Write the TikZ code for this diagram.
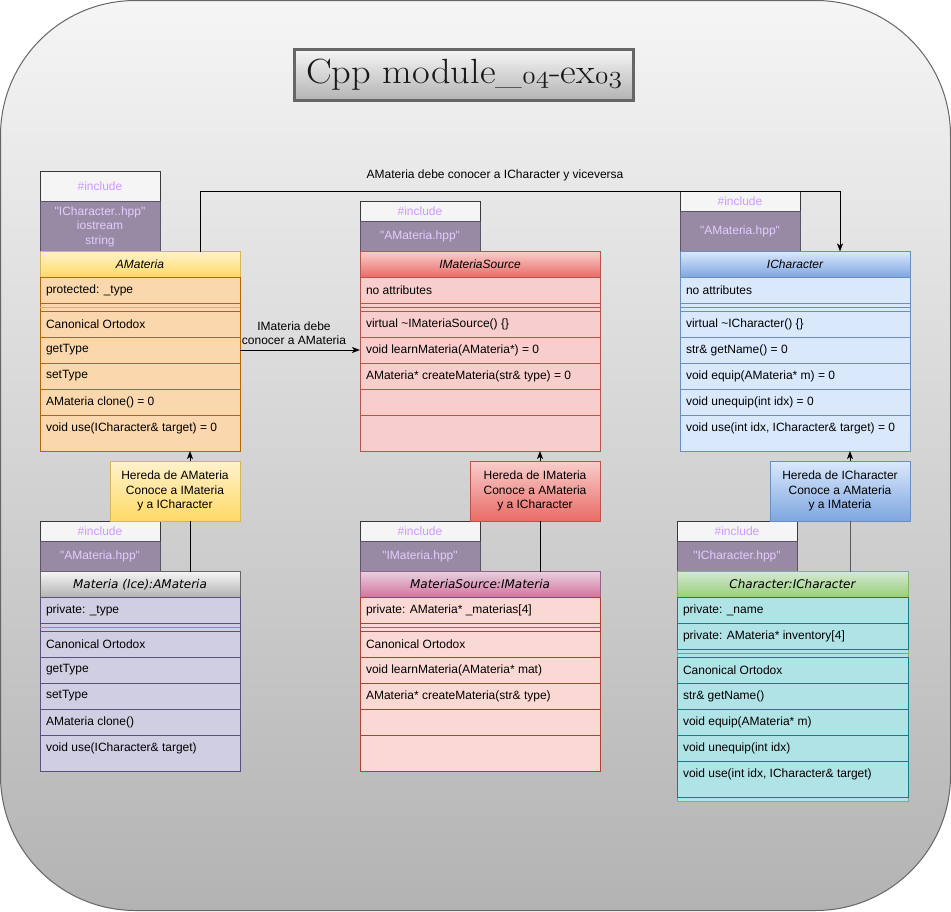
\documentclass[tikz,border=0pt]{standalone}
\usepackage{fontspec}
\newfontfamily\hv{Liberation Sans}
\newfontfamily\dv{DejaVu Sans}
\usetikzlibrary{arrows.meta}
\definecolor{bgTop}{HTML}{F5F5F5}
\definecolor{bgBot}{HTML}{B3B3B3}
\definecolor{bgLine}{HTML}{666666}
\definecolor{incF}{HTML}{F5F5F5}
\definecolor{incB}{HTML}{36393D}
\definecolor{incT}{HTML}{CC99FF}
\definecolor{purF}{HTML}{988AA4}
\definecolor{purB}{HTML}{5C5466}
\definecolor{purT}{HTML}{E5CCFF}
% AMateria
\definecolor{amF}{HTML}{FAD7AC}\definecolor{amB}{HTML}{B46504}
\definecolor{amH1}{HTML}{FFF2CC}\definecolor{amH2}{HTML}{FFD966}\definecolor{amHB}{HTML}{D6B656}
% IMateriaSource
\definecolor{imF}{HTML}{F8CECC}\definecolor{imB}{HTML}{B85450}
\definecolor{imH1}{HTML}{F8CECC}\definecolor{imH2}{HTML}{EA6B66}
% ICharacter
\definecolor{icF}{HTML}{DAE8FC}\definecolor{icB}{HTML}{6C8EBF}
\definecolor{icH1}{HTML}{DAE8FC}\definecolor{icH2}{HTML}{7EA6E0}
% Materia Ice
\definecolor{miF}{HTML}{D0CEE2}\definecolor{miB}{HTML}{56517E}
\definecolor{miH1}{HTML}{F5F5F5}\definecolor{miH2}{HTML}{B3B3B3}\definecolor{miHB}{HTML}{666666}
\definecolor{miS}{HTML}{B5922E}
% MateriaSource
\definecolor{msF}{HTML}{FAD9D5}\definecolor{msB}{HTML}{AE4132}
\definecolor{msH1}{HTML}{E6D0DE}\definecolor{msH2}{HTML}{D5739D}\definecolor{msHB}{HTML}{996185}
% Character
\definecolor{chF}{HTML}{B0E3E6}\definecolor{chB}{HTML}{0E8088}
\definecolor{chH1}{HTML}{D5E8D4}\definecolor{chH2}{HTML}{97D077}\definecolor{chHB}{HTML}{82B366}
\definecolor{chS}{HTML}{7A9E9E}

\tikzset{
  every node/.style={font=\hv\fontsize{12}{14.4}\selectfont, inner sep=0pt, outer sep=0pt},
  box/.style={anchor=north west, line width=1pt},
  txt/.style={anchor=west, text=black},
  incl/.style={box, draw=incB, fill=incF, text=incT, minimum width=120pt},
  purp/.style={box, draw=purB, fill=purF, text=purT, minimum width=120pt, align=center},
  arr/.style={-{Stealth[length=8pt,width=6pt,inset=2pt]}, line width=1pt, draw=black},
  plain/.style={line width=1pt, draw=black},
  amrow/.style={box, draw=amB, fill=amF},
  imrow/.style={box, draw=imB, fill=imF},
  icrow/.style={box, draw=icB, fill=icF},
  mirow/.style={box, draw=miB, fill=miF},
  msrow/.style={box, draw=msB, fill=msF},
  chrow/.style={box, draw=chB, fill=chF},
}
% #1 style, #2 name, #3 x, #4 y, #5 width, #6 height, #7 text
\newcommand\crow[7]{%
  \node[#1, minimum width=#5pt, minimum height=#6pt] (#2) at (#3,#4) {};
  \node[txt] (#2t) at ([xshift=6pt,yshift=-13pt]#2.north west) {#7};}
\newcommand\osnum[1]{{\usefont{OML}{cmm}{m}{it}#1}}

\begin{document}
\begin{tikzpicture}[x=1pt,y=-1pt]
\useasboundingbox (0,0) rectangle (951,911);
% background
\path[draw=bgLine, line width=1pt, top color=bgTop, bottom color=bgBot, rounded corners=135pt]
  (0.5,0.5) rectangle (950.5,910.5);

% title
\node[box, draw=bgLine, line width=3pt, top color=bgTop, bottom color=bgBot,
      minimum width=339pt, minimum height=51pt,
      font=\fontsize{35}{40}\selectfont, text=black!90] (title) at (294.5,49.5)
  {\scalebox{1.1}[1]{Cpp module\_\osnum{04}-ex\osnum{03}}};

% ================= AMateria =================
\node[incl, minimum height=30pt] (AMinc) at (40,171.3) {\#include};
\node[purp, minimum height=50.2pt] (AMpur) at (40,201.5)
  {\textquotedbl ICharacter..hpp\textquotedbl\\iostream\\string};
\node[box, draw=amB, fill=amF, minimum width=200pt, minimum height=199.5pt] (AM) at (40,251.5) {};
\node[box, draw=amHB, top color=amH1, bottom color=amH2, minimum width=200pt, minimum height=25.5pt] (AMh) at (40,251.5) {\itshape AMateria};
\crow{amrow}{AMa1}{40}{277}{200}{26}{protected: \_type}
\draw[line width=1pt, draw=amHB] (AMa1.south west) ++(0,4) coordinate (AMs1) -- ++(200,0) coordinate (AMs2);
\crow{amrow}{AMm1}{40}{311}{200}{26}{Canonical Ortodox}
\crow{amrow}{AMm2}{40}{337}{200}{26}{getType}
\crow{amrow}{AMm3}{40}{363}{200}{26}{setType}
\crow{amrow}{AMm4}{40}{389}{200}{26}{AMateria clone() = 0}
\crow{amrow}{AMm5}{40}{415}{200}{36}{void use(ICharacter\& target) = 0}

% ================= IMateriaSource =================
\node[incl, minimum height=20pt] (IMinc) at (360,201.3) {\#include};
\node[purp, minimum height=30.2pt] (IMpur) at (360,221.3) {\textquotedbl AMateria.hpp\textquotedbl};
\node[box, draw=imB, fill=imF, minimum width=240pt, minimum height=199.5pt] (IM) at (360,251.5) {};
\node[box, draw=imB, top color=imH1, bottom color=imH2, minimum width=240pt, minimum height=25.5pt] (IMh) at (360,251.5) {\itshape IMateriaSource};
\crow{imrow}{IMa1}{360}{277}{240}{26}{no attributes}
\draw[line width=1pt, draw=imB] (IMa1.south west) ++(0,4) coordinate (IMs1) -- ++(240,0) coordinate (IMs2);
\crow{imrow}{IMm1}{360}{311}{240}{26}{virtual \textasciitilde IMateriaSource() \{\}}
\crow{imrow}{IMm2}{360}{337}{240}{26}{void learnMateria(AMateria*) = 0}
\crow{imrow}{IMm3}{360}{363}{240}{26}{AMateria* createMateria(str\& type) = 0}
\crow{imrow}{IMm4}{360}{389}{240}{26}{}
\crow{imrow}{IMm5}{360}{415}{240}{36}{}

% ================= ICharacter =================
\node[incl, minimum height=20pt] (ICinc) at (680,191.3) {\#include};
\node[purp, minimum height=40.2pt] (ICpur) at (680,211.3) {\textquotedbl AMateria.hpp\textquotedbl};
\node[box, draw=icB, fill=icF, minimum width=230pt, minimum height=199.5pt] (IC) at (680,251.5) {};
\node[box, draw=icB, top color=icH1, bottom color=icH2, minimum width=230pt, minimum height=25.5pt] (ICh) at (680,251.5) {\itshape ICharacter};
\crow{icrow}{ICa1}{680}{277}{230}{26}{no attributes}
\draw[line width=1pt, draw=icB] (ICa1.south west) ++(0,4) coordinate (ICs1) -- ++(230,0) coordinate (ICs2);
\crow{icrow}{ICm1}{680}{311}{230}{26}{virtual \textasciitilde ICharacter() \{\}}
\crow{icrow}{ICm2}{680}{337}{230}{26}{str\& getName() = 0}
\crow{icrow}{ICm3}{680}{363}{230}{26}{void equip(AMateria* m) = 0}
\crow{icrow}{ICm4}{680}{389}{230}{26}{void unequip(int idx) = 0}
\crow{icrow}{ICm5}{680}{415}{230}{36}{void use(int idx, ICharacter\& target) = 0}

% ================= Materia (Ice) =================
\node[incl, minimum height=20pt] (MIinc) at (40,521.3) {\#include};
\node[purp, minimum height=30.2pt] (MIpur) at (40,541.3) {\textquotedbl AMateria.hpp\textquotedbl};
\node[box, draw=miB, fill=miF, minimum width=200pt, minimum height=199.5pt] (MI) at (40,571.5) {};
\node[box, draw=miHB, top color=miH1, bottom color=miH2, minimum width=200pt, minimum height=25.5pt] (MIh) at (40,571.5) {\dv\itshape Materia (Ice):AMateria};
\crow{mirow}{MIa1}{40}{597}{200}{26}{private: \_type}
\draw[line width=1pt, draw=miS] (MIa1.south west) ++(0,4) coordinate (MIs1) -- ++(200,0) coordinate (MIs2);
\crow{mirow}{MIm1}{40}{631}{200}{26}{Canonical Ortodox}
\crow{mirow}{MIm2}{40}{657}{200}{26}{getType}
\crow{mirow}{MIm3}{40}{683}{200}{26}{setType}
\crow{mirow}{MIm4}{40}{709}{200}{26}{AMateria clone()}
\crow{mirow}{MIm5}{40}{735}{200}{36}{void use(ICharacter\& target)}

% ================= MateriaSource =================
\node[incl, minimum height=20pt] (MSinc) at (360,521.3) {\#include};
\node[purp, minimum height=30.2pt] (MSpur) at (360,541.3) {\textquotedbl IMateria.hpp\textquotedbl};
\node[box, draw=msB, fill=msF, minimum width=240pt, minimum height=199.5pt] (MS) at (360,571.5) {};
\node[box, draw=msHB, top color=msH1, bottom color=msH2, minimum width=240pt, minimum height=25.5pt] (MSh) at (360,571.5) {\dv\itshape MateriaSource:IMateria};
\crow{msrow}{MSa1}{360}{597}{240}{26}{private: AMateria* \_materias[4]}
\draw[line width=1pt, draw=msHB] (MSa1.south west) ++(0,4) coordinate (MSs1) -- ++(240,0) coordinate (MSs2);
\crow{msrow}{MSm1}{360}{631}{240}{26}{Canonical Ortodox}
\crow{msrow}{MSm2}{360}{657}{240}{26}{void learnMateria(AMateria* mat)}
\crow{msrow}{MSm3}{360}{683}{240}{26}{AMateria* createMateria(str\& type)}
\crow{msrow}{MSm4}{360}{709}{240}{26}{}
\crow{msrow}{MSm5}{360}{735}{240}{36}{}

% ================= Character =================
\node[incl, minimum height=20pt] (CHinc) at (677,521.3) {\#include};
\node[purp, minimum height=30.2pt] (CHpur) at (677,541.3) {\textquotedbl ICharacter.hpp\textquotedbl};
\node[box, draw=chHB, fill=chF, minimum width=231pt, minimum height=229.5pt] (CH) at (677,571.5) {};
\node[box, draw=chHB, top color=chH1, bottom color=chH2, minimum width=231pt, minimum height=25.5pt] (CHh) at (677,571.5) {\dv\itshape Character:ICharacter};
\crow{chrow}{CHa1}{677}{597}{231}{26}{private: \_name}
\crow{chrow}{CHa2}{677}{623}{231}{26}{private: AMateria* inventory[4]}
\draw[line width=1pt, draw=chS] (CHa2.south west) ++(0,4) coordinate (CHs1) -- ++(231,0) coordinate (CHs2);
\crow{chrow}{CHm1}{677}{657}{231}{26}{Canonical Ortodox}
\crow{chrow}{CHm2}{677}{683}{231}{26}{str\& getName()}
\crow{chrow}{CHm3}{677}{709}{231}{26}{void equip(AMateria* m)}
\crow{chrow}{CHm4}{677}{735}{231}{26}{void unequip(int idx)}
\crow{chrow}{CHm5}{677}{761}{231}{36}{void use(int idx, ICharacter\& target)}

% ================= notes =================
\node[box, draw=amHB, top color=amH1, bottom color=amH2, minimum width=130pt, minimum height=60pt, align=center] (AMn) at (110,461)
  {Hereda de AMateria\\Conoce a IMateria\\y a ICharacter};
\node[box, draw=imB, top color=imH1, bottom color=imH2, minimum width=130pt, minimum height=60pt, align=center] (IMn) at (470,461)
  {Hereda de IMateria\\Conoce a AMateria\\y a ICharacter};
\node[box, draw=icB, top color=icH1, bottom color=icH2, minimum width=140pt, minimum height=60pt, align=center] (ICn) at (770,461)
  {Hereda de ICharacter\\Conoce a AMateria\\y a IMateria};

% ================= connectors =================
\coordinate (topy) at (0,191.3);
\draw[arr] ([xshift=160pt]AMh.north west) -- ([xshift=160pt]AMh.north west |- topy)
  -| ([xshift=160pt]ICh.north west);
\node (lblTop) at (495,175) {AMateria debe conocer a ICharacter y viceversa};

\draw[arr] (AMm2.east) -- (IMm2.west);
\node[align=center] (lblMid) at (294,333) {IMateria debe\\conocer a AMateria};

\draw[arr] ([xshift=80pt]AMn.north west) -- ([xshift=80pt]AMn.north west |- AM.south);
\draw[plain] ([xshift=150pt]MIh.north west) -- ([xshift=150pt]MIh.north west |- AMn.south);

\draw[arr] ([xshift=70pt]IMn.north west) -- ([xshift=70pt]IMn.north west |- IM.south);
\draw[plain] ([xshift=180pt]MSh.north west) -- ([xshift=180pt]MSh.north west |- IMn.south);

\draw[arr] ([xshift=80pt]ICn.north west) -- ([xshift=80pt]ICn.north west |- IC.south);
\draw[plain, draw=black!65] ([xshift=173pt]CHh.north west) -- ([xshift=173pt]CHh.north west |- ICn.south);
\end{tikzpicture}
\end{document}
